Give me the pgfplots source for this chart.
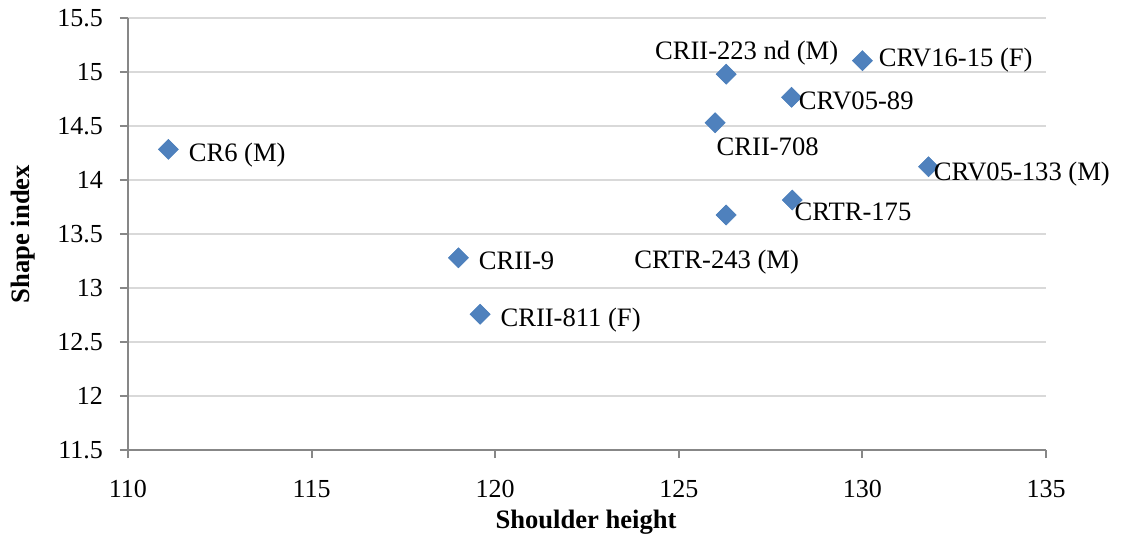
\documentclass[border=0pt]{standalone}
\usepackage{fontspec}
\setmainfont{Liberation Serif}
\usepackage{pgfplots}
\pgfplotsset{compat=1.18}
\definecolor{mk}{HTML}{4F81BD}
\definecolor{mkb}{HTML}{4A7EBB}
\definecolor{gridc}{HTML}{D9D9D9}
\definecolor{axc}{HTML}{878787}
\pgfplotsset{
  lbl/.style n args={3}{only marks, mark=none, point meta=explicit symbolic,
    nodes near coords={\pgfplotspointmeta},
    nodes near coords style={anchor=#1, xshift=#2, yshift=#3, inner sep=0pt,
      font=\fontsize{13.3}{16}\selectfont, text=black}},
}
\begin{document}
\begin{tikzpicture}
\begin{axis}[
  scale only axis,
  width=459pt, height=216pt,
  xmin=110, xmax=135, ymin=11.5, ymax=15.5,
  xtick={110,115,...,135},
  ytick={11.5,12,...,15.5},
  axis x line*=bottom, axis y line*=left,
  axis line style={axc, line width=1pt},
  tick style={axc, line width=1pt},
  tick align=outside,
  major tick length=4pt,
  ymajorgrids,
  major grid style={gridc, line width=0.85pt},
  /pgf/number format/assume math mode=true,
  /pgf/number format/1000 sep={},
  ticklabel style={font=\fontsize{13}{15}\selectfont},
  yticklabel style={/pgf/number format/fixed, xshift=-5pt},
  xticklabel style={yshift=-7.5pt},
  xlabel={\textbf{Shoulder height}},
  ylabel={\textbf{Shape index}},
  label style={font=\fontsize{13.3}{16}\selectfont},
  xlabel style={at={(axis description cs:0.499,-0.167)}, anchor=center},
  ylabel style={at={(axis description cs:-0.114,0.5)}, anchor=center},
  clip=false,
]
\path (rel axis cs:-0.1394,-0.2153) rectangle (rel axis cs:1.0817,1.0417);
\addplot[only marks, mark=square*, mark size=3.54pt,
  mark options={rotate=45, fill=mk, draw=mkb, line width=0.3pt}]
  coordinates {
  (111.10,14.284) (119.00,13.280) (119.59,12.757) (130.00,15.105)
  (128.07,14.766) (131.80,14.123) (128.09,13.815) (126.29,14.980)
  (125.99,14.530) (126.29,13.676)
  };
\addplot[lbl={base west}{10pt}{-5.9pt}] coordinates {(111.10,14.284) [CR6 (M)]};
\addplot[lbl={base west}{10pt}{-5.9pt}] coordinates {(119.00,13.280) [CRII-9]};
\addplot[lbl={base west}{10pt}{-5.9pt}] coordinates {(119.59,12.757) [CRII-811 (F)]};
\addplot[lbl={base west}{8pt}{-2.9pt}] coordinates {(130.00,15.105) [CRV16-15 (F)]};
\addplot[lbl={base west}{3.5pt}{-5.9pt}] coordinates {(128.07,14.766) [CRV05-89]};
\addplot[lbl={base west}{2.5pt}{-6.9pt}] coordinates {(131.80,14.123) [CRV05-133 (M)]};
\addplot[lbl={base west}{1pt}{-10.4pt}] coordinates {(128.09,13.815) [CRTR-175]};
\addplot[lbl={base}{10.25pt}{7.1pt}] coordinates {(126.29,14.980) [CRII-223 nd (M)]};
\addplot[lbl={base}{26.25pt}{-16.4pt}] coordinates {(125.99,14.530) [CRII-708]};
\addplot[lbl={base}{-4.75pt}{-26.65pt}] coordinates {(126.29,13.676) [CRTR-243 (M)]};
\end{axis}
\end{tikzpicture}
\end{document}
